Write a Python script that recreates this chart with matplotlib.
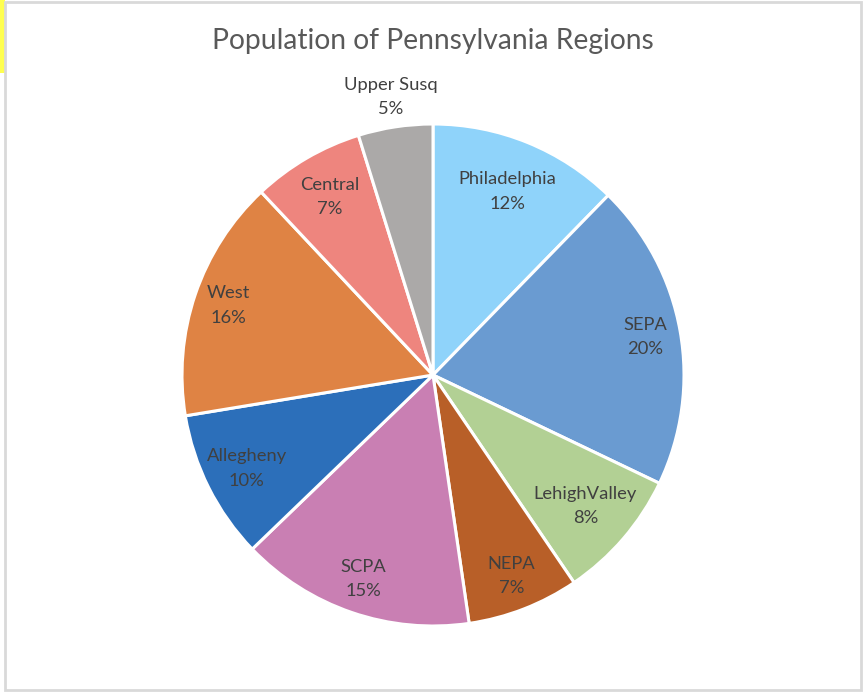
import matplotlib
matplotlib.use("Agg")
import matplotlib.pyplot as plt
import numpy as np
from matplotlib.patches import Rectangle

regions = ["Philadelphia", "SEPA", "LehighValley", "NEPA", "SCPA",
           "Allegheny", "West", "Central", "Upper Susq"]
shares = [12.3, 19.8, 8.4, 7.2, 15.1, 9.6, 15.6, 7.2, 4.8]
colors = ["#8FD3FA", "#6A9BD1", "#B2D094", "#B85F28", "#C97FB3",
          "#2C6FBA", "#DF8344", "#EE857E", "#ABA9A8"]
label_dist = [0.79, 0.86, 0.80, 0.86, 0.86, 0.83, 0.86, 0.82, 1.12]

W, H = 864, 694
cx, cy, R = 433, 375, 251

fig = plt.figure(figsize=(W / 100, H / 100), dpi=100)
fig.patch.set_facecolor("white")

# spreadsheet surroundings
fig.patches.append(Rectangle((0, 1 - 73 / H), 5 / W, 73 / H, transform=fig.transFigure,
                             facecolor="#FFFF4F", edgecolor="none", zorder=-2))
fig.patches.append(Rectangle((5 / W, 4 / H), (861 - 5) / W, (692 - 4) / H,
                             transform=fig.transFigure, facecolor="white",
                             edgecolor="#D9D9D9", linewidth=2, zorder=-1))

ax = fig.add_axes([0, 0, 1, 1], zorder=1)
ax.patch.set_visible(False)

wedges, _ = ax.pie(shares, colors=colors, startangle=90, counterclock=False,
                   radius=1.0, center=(0, 0),
                   wedgeprops=dict(edgecolor="white", linewidth=2.2))
ax.set_aspect("auto")
ax.set_xlim(-cx / R, (W - cx) / R)
ax.set_ylim(-(H - cy) / R, cy / R)
ax.axis("off")

total = sum(shares)
for w, name, val, d in zip(wedges, regions, shares, label_dist):
    ang = np.deg2rad((w.theta1 + w.theta2) / 2)
    x, y = d * np.cos(ang), d * np.sin(ang)
    ax.text(x, y, f"{name}\n{round(val / total * 100):.0f}%", ha="center", va="center",
            fontsize=13.2, color="#404040", family=["Lato", "DejaVu Sans"],
            linespacing=1.65)

fig.text(cx / W, 1 - 41 / H, "Population of Pennsylvania Regions", ha="center",
         va="center", fontsize=20.3, color="#595959", family=["Lato", "DejaVu Sans"])

fig.savefig("out.png", dpi=100)
